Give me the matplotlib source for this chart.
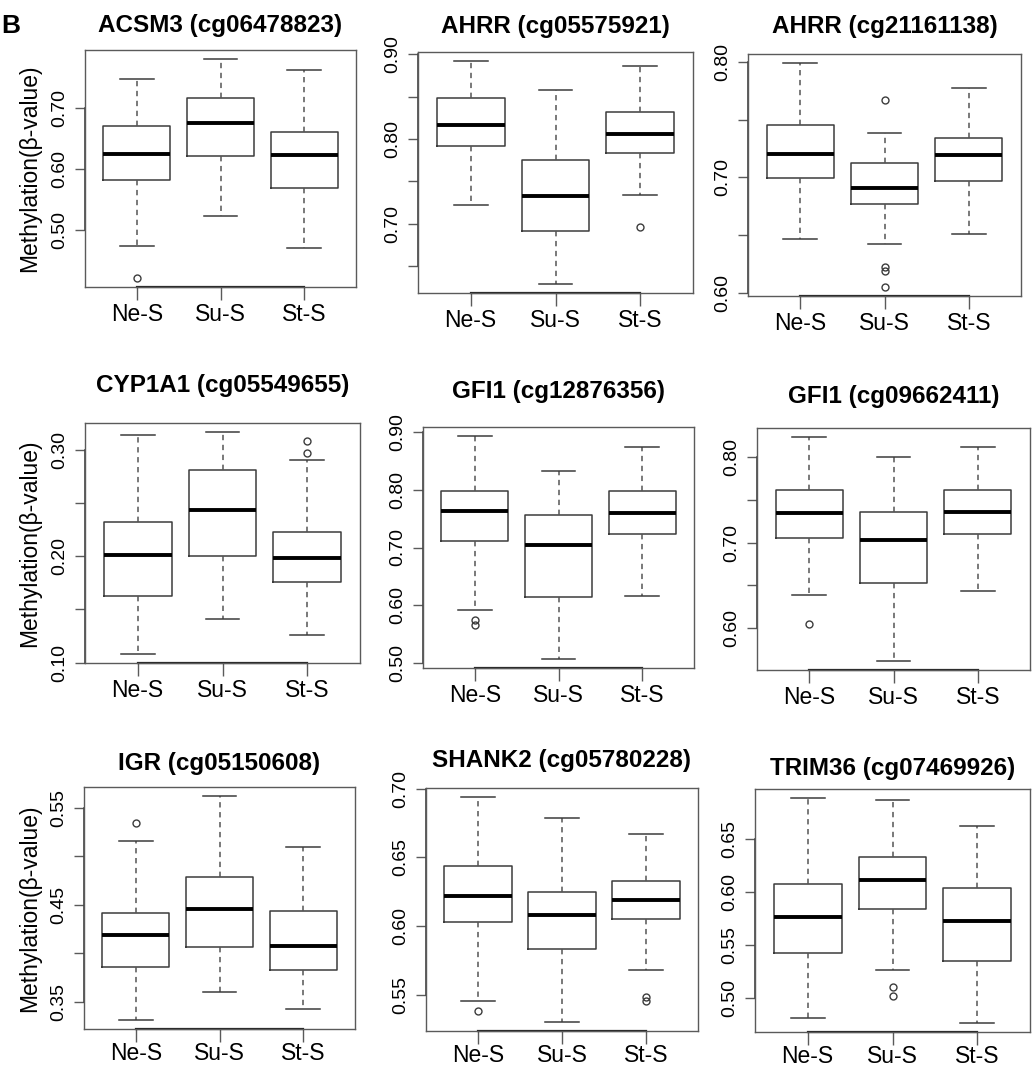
import numpy as np
import matplotlib
matplotlib.use("Agg")
import matplotlib.pyplot as plt

plt.rcParams['font.family'] = ['Liberation Sans', 'DejaVu Sans']

groups = ["Ne-S", "Su-S", "St-S"]

titles = ["ACSM3 (cg06478823)", "AHRR (cg05575921)", "AHRR (cg21161138)",
          "CYP1A1 (cg05549655)", "GFI1 (cg12876356)", "GFI1 (cg09662411)",
          "IGR (cg05150608)", "SHANK2 (cg05780228)", "TRIM36 (cg07469926)"]

# per group: lower whisker, Q1, median, Q3, upper whisker
acsm3 = [[0.473, 0.582, 0.625, 0.670, 0.747],
         [0.523, 0.621, 0.675, 0.716, 0.780],
         [0.471, 0.569, 0.623, 0.661, 0.761]]
acsm3_out = [[0.421], [], []]

ahrr_a = [[0.722, 0.792, 0.817, 0.848, 0.892],
          [0.629, 0.692, 0.733, 0.775, 0.858],
          [0.734, 0.783, 0.806, 0.832, 0.886]]
ahrr_a_out = [[], [], [0.696]]

ahrr_b = [[0.647, 0.699, 0.720, 0.745, 0.799],
          [0.642, 0.677, 0.691, 0.712, 0.738],
          [0.651, 0.697, 0.719, 0.734, 0.777]]
ahrr_b_out = [[], [0.767, 0.622, 0.619, 0.605], []]

cyp1a1 = [[0.108, 0.163, 0.201, 0.232, 0.314],
          [0.141, 0.200, 0.244, 0.281, 0.317],
          [0.126, 0.176, 0.198, 0.223, 0.291]]
cyp1a1_out = [[], [], [0.308, 0.297]]

gfi1_a = [[0.592, 0.711, 0.763, 0.798, 0.893],
          [0.507, 0.614, 0.704, 0.757, 0.832],
          [0.616, 0.724, 0.759, 0.797, 0.874]]
gfi1_a_out = [[0.574, 0.566], [], []]

gfi1_b = [[0.639, 0.705, 0.735, 0.762, 0.824],
          [0.561, 0.653, 0.703, 0.736, 0.801],
          [0.643, 0.710, 0.736, 0.762, 0.812]]
gfi1_b_out = [[0.604], [], []]

igr = [[0.331, 0.386, 0.419, 0.441, 0.516],
       [0.360, 0.406, 0.445, 0.478, 0.562],
       [0.342, 0.383, 0.407, 0.443, 0.509]]
igr_out = [[0.534], [], []]

shank2 = [[0.545, 0.603, 0.622, 0.644, 0.694],
          [0.530, 0.583, 0.608, 0.625, 0.679],
          [0.568, 0.605, 0.619, 0.633, 0.667]]
shank2_out = [[0.538], [], [0.548, 0.545]]

trim36 = [[0.482, 0.543, 0.576, 0.607, 0.688],
          [0.527, 0.584, 0.611, 0.633, 0.686],
          [0.477, 0.535, 0.573, 0.604, 0.662]]
trim36_out = [[], [0.511, 0.502], []]

panels = [(acsm3, acsm3_out), (ahrr_a, ahrr_a_out), (ahrr_b, ahrr_b_out),
          (cyp1a1, cyp1a1_out), (gfi1_a, gfi1_a_out), (gfi1_b, gfi1_b_out),
          (igr, igr_out), (shank2, shank2_out), (trim36, trim36_out)]

# tick step, label every n-th tick, index of first labelled tick
tick_steps = [(0.1, 1, 0), (0.05, 2, 1), (0.05, 2, 0),
              (0.05, 2, 0), (0.1, 1, 0), (0.05, 2, 0),
              (0.05, 2, 0), (0.05, 1, 0), (0.05, 1, 0)]

# plot frames in pixels: left, top, right, bottom
frames = [(85, 50, 356, 287), (418, 52, 693, 293), (748, 54, 1021, 296),
          (85, 423, 360, 663), (423, 427, 694, 668), (757, 428, 1030, 670),
          (84, 787, 355, 1029), (426, 788, 698, 1031), (755, 789, 1030, 1032)]
title_base = [32, 33, 33, 392, 398, 403, 770, 767, 775]

W, H = 1033, 1069
fig = plt.figure(figsize=(W / 100, H / 100), dpi=100)
frame_col = '#5a5a5a'
line_col = '#3c3c3c'

for i, (boxes, outs) in enumerate(panels):
    l, t, r, b = frames[i]
    ax = fig.add_axes([l / W, 1 - b / H, (r - l) / W, (b - t) / H])

    stats = []
    for k, g in enumerate(groups):
        lo, q1, med, q3, hi = boxes[k]
        stats.append(dict(label=g, whislo=lo, q1=q1, med=med, q3=q3,
                          whishi=hi, fliers=np.array(outs[k])))
    ax.bxp(stats, positions=[1, 2, 3], widths=0.8, capwidths=0.4,
           boxprops=dict(color=line_col, lw=1.1),
           whiskerprops=dict(color='#555555', lw=1.1, linestyle=(0, (3.5, 3))),
           capprops=dict(color=line_col, lw=1.1),
           medianprops=dict(color='black', lw=2.8, solid_capstyle='butt'),
           flierprops=dict(marker='o', mfc='none', mec=line_col, ms=5, mew=1))

    # R style range: data range plus 4 % each side
    allv = [v for bx in boxes for v in bx] + [v for o in outs for v in o]
    vmin, vmax = min(allv), max(allv)
    pad = 0.04 * (vmax - vmin)
    ax.set_ylim(vmin - pad, vmax + pad)
    ax.set_xlim(0.38, 3.62)

    step, every, first = tick_steps[i]
    y0, y1 = ax.get_ylim()
    ks = np.arange(np.ceil(y0 / step - 1e-9), np.floor(y1 / step + 1e-9) + 1)
    ticks = ks * step
    labels = ["%.2f" % tk if (j - first) % every == 0 else ""
              for j, tk in enumerate(ticks)]
    ax.set_yticks(ticks)
    ax.set_yticklabels(labels, rotation=90, va='center', fontsize=14)
    ax.set_xticks([1, 2, 3])
    ax.set_xticklabels(groups, fontsize=16.5)

    xpad = 0.3 if i >= 6 else 2.5
    ax.tick_params(axis='y', length=7, width=1, pad=5, color=frame_col)
    ax.tick_params(axis='x', length=9, width=1, pad=xpad, color=frame_col)
    for sp in ax.spines.values():
        sp.set_color(frame_col)
        sp.set_linewidth(1.0)

    # axis lines between first and last tick, as R draws them
    ax.plot([1, 3], [0, 0], transform=ax.get_xaxis_transform(),
            color='#222222', lw=1.6, clip_on=False)
    ax.plot([0, 0], [ticks[0], ticks[-1]], transform=ax.get_yaxis_transform(),
            color='#444444', lw=1.2, clip_on=False)

    fig.text((l + r) / 2 / W, 1 - title_base[i] / H, titles[i],
             ha='center', va='baseline', fontsize=17.5, fontweight='bold')

    if i % 3 == 0:
        fig.text(30 / W, 1 - (t + b) / 2 / H, "Methylation(\u03b2-value)",
                 rotation=90, ha='center', va='center', fontsize=16.5)

fig.text(1 / W, 1 - 33 / H, "B", fontsize=19, fontweight='bold', va='baseline')

fig.savefig("out.png", dpi=100)
